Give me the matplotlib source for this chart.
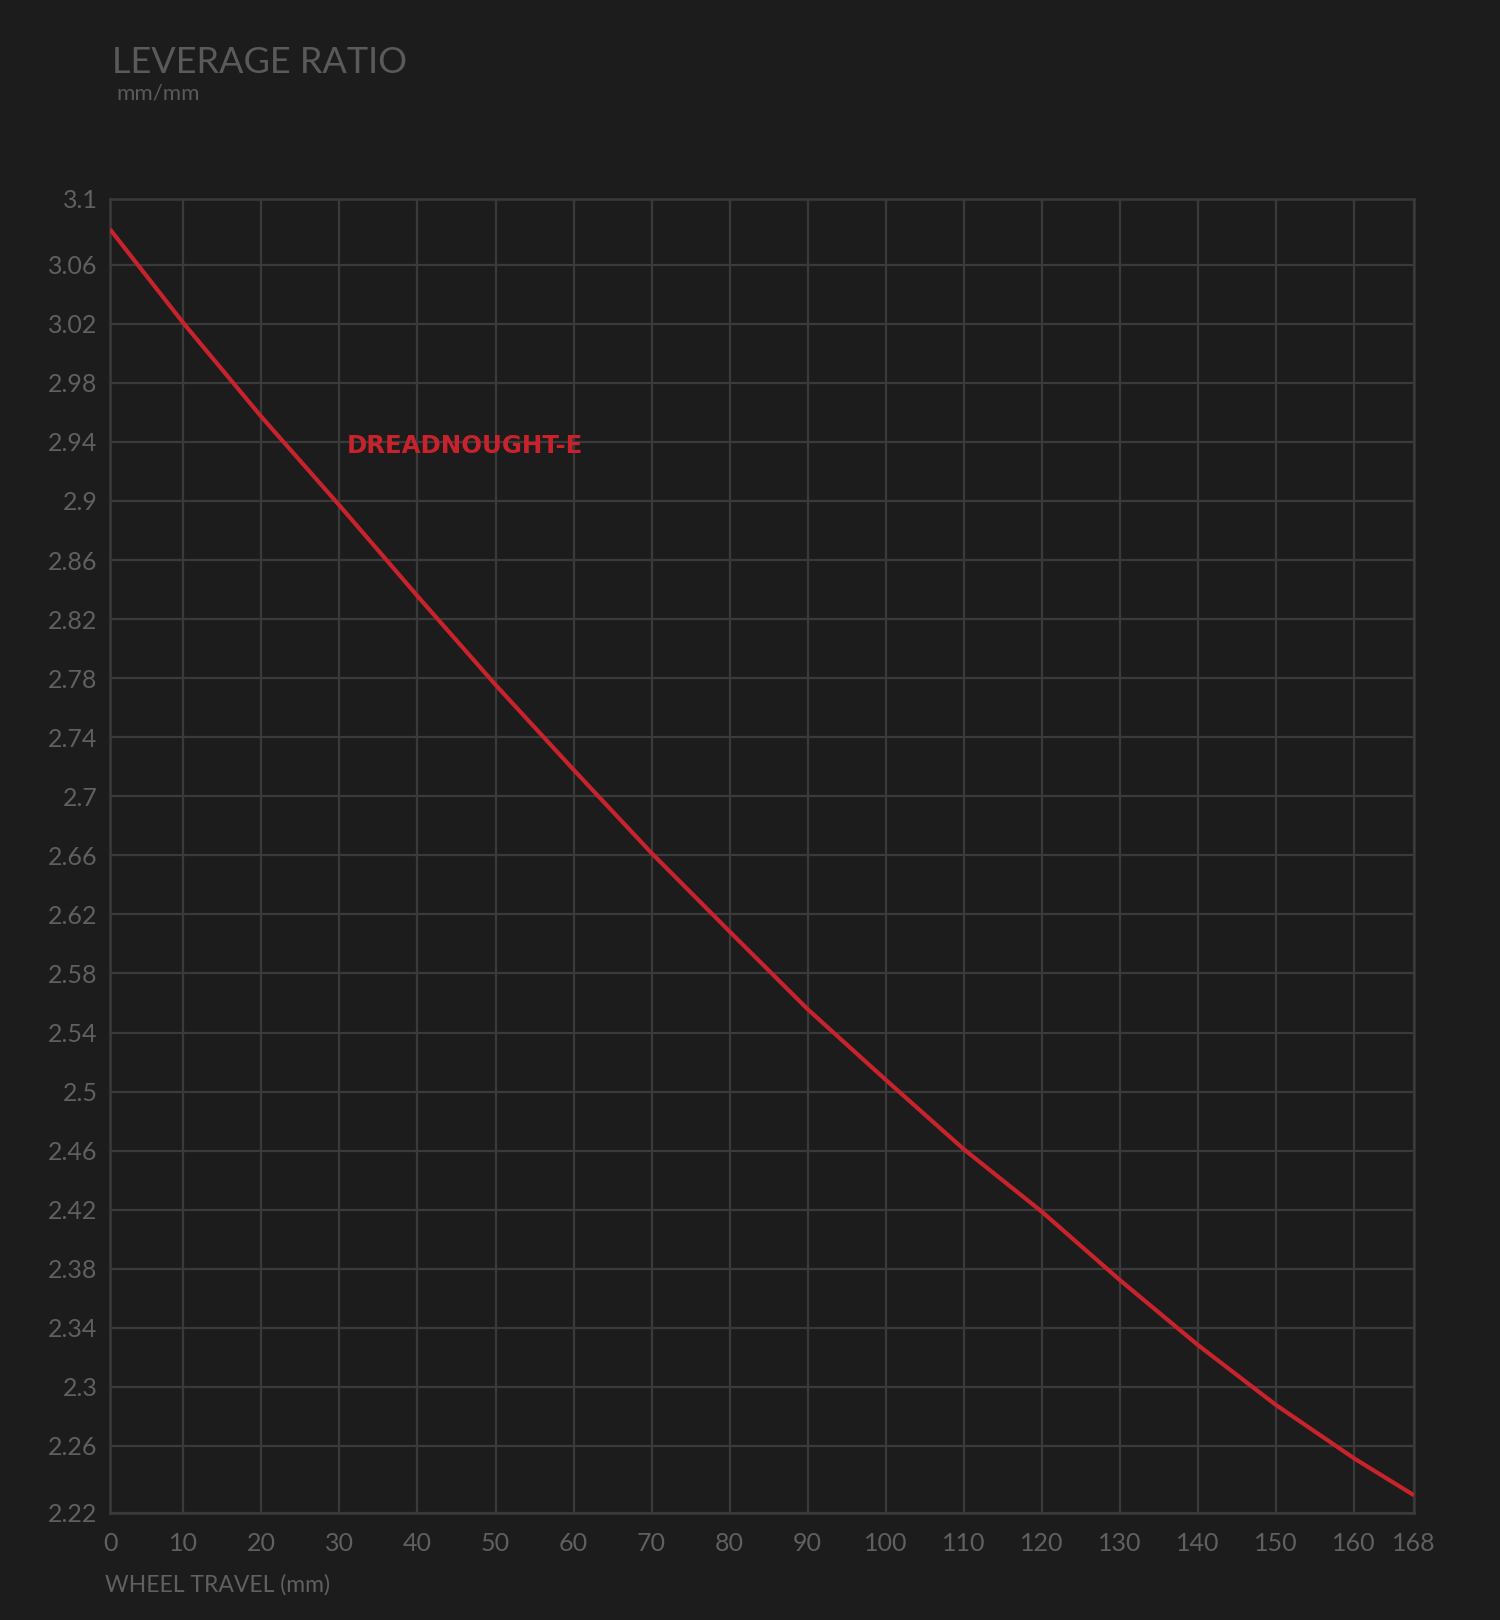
import matplotlib
matplotlib.use("Agg")
import matplotlib.pyplot as plt

# ---- data ----
travel_mm = [0.6, 10, 20, 30, 40, 50, 60, 70, 80, 90, 100, 110, 120, 130, 140, 150, 160, 167.7]
leverage = [3.084, 3.0205, 2.957, 2.897, 2.8356, 2.7755, 2.718, 2.6615, 2.6084, 2.5558,
            2.508, 2.461, 2.4187, 2.3724, 2.3284, 2.2878, 2.2517, 2.2266]

x_ticks = [0.6, 10, 20, 30, 40, 50, 60, 70, 80, 90, 100, 110, 120, 130, 140, 150, 160, 167.7]
x_tick_labels = ["0", "10", "20", "30", "40", "50", "60", "70", "80", "90", "100",
                 "110", "120", "130", "140", "150", "160", "168"]
y_ticks = [2.2146, 2.26, 2.30, 2.34, 2.38, 2.42, 2.46, 2.50, 2.54, 2.58, 2.62, 2.66,
           2.70, 2.74, 2.78, 2.82, 2.86, 2.90, 2.94, 2.98, 3.02, 3.06, 3.1045]
y_tick_labels = ["2.22", "2.26", "2.3", "2.34", "2.38", "2.42", "2.46", "2.5", "2.54",
                 "2.58", "2.62", "2.66", "2.7", "2.74", "2.78", "2.82", "2.86", "2.9",
                 "2.94", "2.98", "3.02", "3.06", "3.1"]
series_name = "DREADNOUGHT-E"

BG = "#1c1c1c"
GRID = "#3a3a3a"
RED = "#c8232c"
TXT = "#606060"
TITLE = "#5a5a5a"
FONT = ["Lato", "DejaVu Sans"]

plt.rcParams["font.family"] = FONT

fig = plt.figure(figsize=(15, 16.2), dpi=100, facecolor=BG)
ax = fig.add_axes([110/1500, 1 - 1513/1620, (1414-110)/1500, (1513-199)/1620])
ax.set_facecolor(BG)

ax.plot(travel_mm, leverage, color=RED, lw=3.0, solid_capstyle="butt", zorder=3)

ax.set_xlim(x_ticks[0], x_ticks[-1])
ax.set_ylim(y_ticks[0], y_ticks[-1])
ax.set_xticks(x_ticks)
ax.set_xticklabels(x_tick_labels)
ax.set_yticks(y_ticks)
ax.set_yticklabels(y_tick_labels)
ax.grid(True, color=GRID, lw=1.6, zorder=0)
ax.set_axisbelow(True)
for s in ax.spines.values():
    s.set_color(GRID)
    s.set_linewidth(1.8)
ax.tick_params(axis="both", length=0, colors=TXT, labelsize=18)
ax.tick_params(axis="x", pad=14)
ax.tick_params(axis="y", pad=9)

ax.text(31, 2.937, series_name, color=RED, fontsize=17.6, fontweight="bold",
        family=["DejaVu Sans"], ha="left", va="center", zorder=4)

fig.text(112/1500, 1 - 73/1620, "LEVERAGE RATIO", color=TITLE, fontsize=26,
         ha="left", va="baseline")
fig.text(116/1500, 1 - 99/1620, "mm/mm", color=TITLE, fontsize=16,
         ha="left", va="baseline")
fig.text(105/1500, 1 - 1592/1620, "WHEEL TRAVEL (mm)", color=TXT, fontsize=16.5,
         ha="left", va="baseline")

fig.savefig("out.png", dpi=100, facecolor=BG)
